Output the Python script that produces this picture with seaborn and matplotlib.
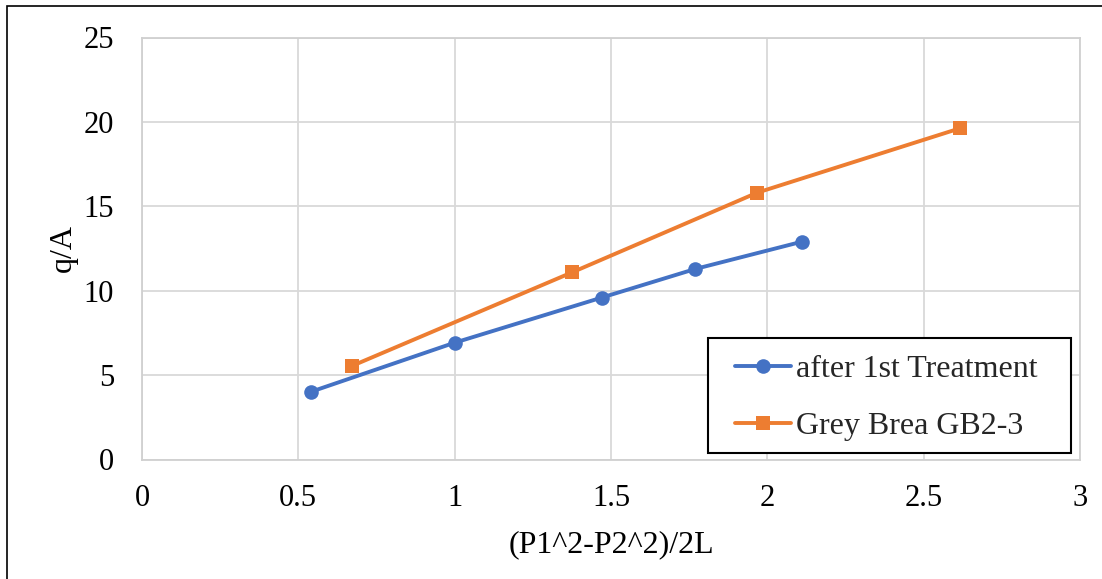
import matplotlib
matplotlib.use("Agg")
import matplotlib.pyplot as plt
from matplotlib.patches import Rectangle
import pandas as pd
import seaborn as sns

# Flow data: normalised rate q/A versus pressure term (P1^2-P2^2)/2L
series_names = ["after 1st Treatment", "Grey Brea GB2-3"]
x_treat = [0.54, 1.00, 1.47, 1.77, 2.11]
y_treat = [4.01, 6.92, 9.59, 11.29, 12.90]
x_grey = [0.671, 1.376, 1.968, 2.616]
y_grey = [5.54, 11.09, 15.81, 19.62]
x_ticks = [0, 0.5, 1, 1.5, 2, 2.5, 3]
x_tick_labels = ["0", "0.5", "1", "1.5", "2", "2.5", "3"]
y_ticks = [0, 5, 10, 15, 20, 25]

df = pd.concat([
    pd.DataFrame({"x": x_treat, "y": y_treat, "series": series_names[0]}),
    pd.DataFrame({"x": x_grey, "y": y_grey, "series": series_names[1]}),
], ignore_index=True)

sns.set_theme(style="whitegrid")
plt.rcParams["font.family"] = ["Liberation Serif", "DejaVu Serif"]

W, H = 1102, 579
fig = plt.figure(figsize=(W / 100, H / 100), dpi=100)
fig.patch.set_facecolor("white")

# outer chart frame
fig.add_artist(Rectangle((7 / W, -0.05), 1.2, 1 - 6 / H + 0.05, transform=fig.transFigure,
                         fill=False, edgecolor="black", linewidth=1.2))

ax = fig.add_axes([142 / W, (H - 459.5) / H, (1080 - 142) / W, (459.5 - 37.5) / H])

palette = {series_names[0]: "#4472C4", series_names[1]: "#ED7D31"}
markers = {series_names[0]: "o", series_names[1]: "s"}
sns.lineplot(data=df, x="x", y="y", hue="series", style="series", palette=palette,
             markers=markers, dashes=False, sort=False, linewidth=2.8, markersize=10.5,
             markeredgewidth=0, ax=ax)

ax.set_xlim(0, 3)
ax.set_ylim(0, 25)
ax.set_xticks(x_ticks)
ax.set_xticklabels(x_tick_labels)
ax.set_yticks(y_ticks)
ax.grid(True, color="#d9d9d9", linewidth=1.3)
for s in ax.spines.values():
    s.set_color("#d0d0d0")
    s.set_linewidth(1.3)
ax.tick_params(axis="both", length=0, labelsize=22, colors="black")
ax.tick_params(axis="y", pad=20)
ax.tick_params(axis="x", pad=18)
ax.set_xlabel("(P1^2-P2^2)/2L", fontsize=23, labelpad=12, color="black")
ax.set_ylabel("q/A", fontsize=23, labelpad=4, color="black")

# legend box drawn separately, entries placed inside it
box = Rectangle((708 / W, (H - 453) / H), (1071 - 708) / W, (453 - 338) / H,
                transform=fig.transFigure, facecolor="white", edgecolor="black",
                linewidth=1.5, zorder=8, clip_on=False)
ax.add_patch(box)
leg = ax.legend(loc="upper left", bbox_to_anchor=(735 / W, (H - 355) / H),
                bbox_transform=fig.transFigure, fontsize=23, frameon=False,
                borderpad=0, labelspacing=0.85, handlelength=1.75,
                handletextpad=0.15, borderaxespad=0)
leg.set_zorder(9)
leg.set_title(None)

fig.savefig("out.png", dpi=100, facecolor="white")
